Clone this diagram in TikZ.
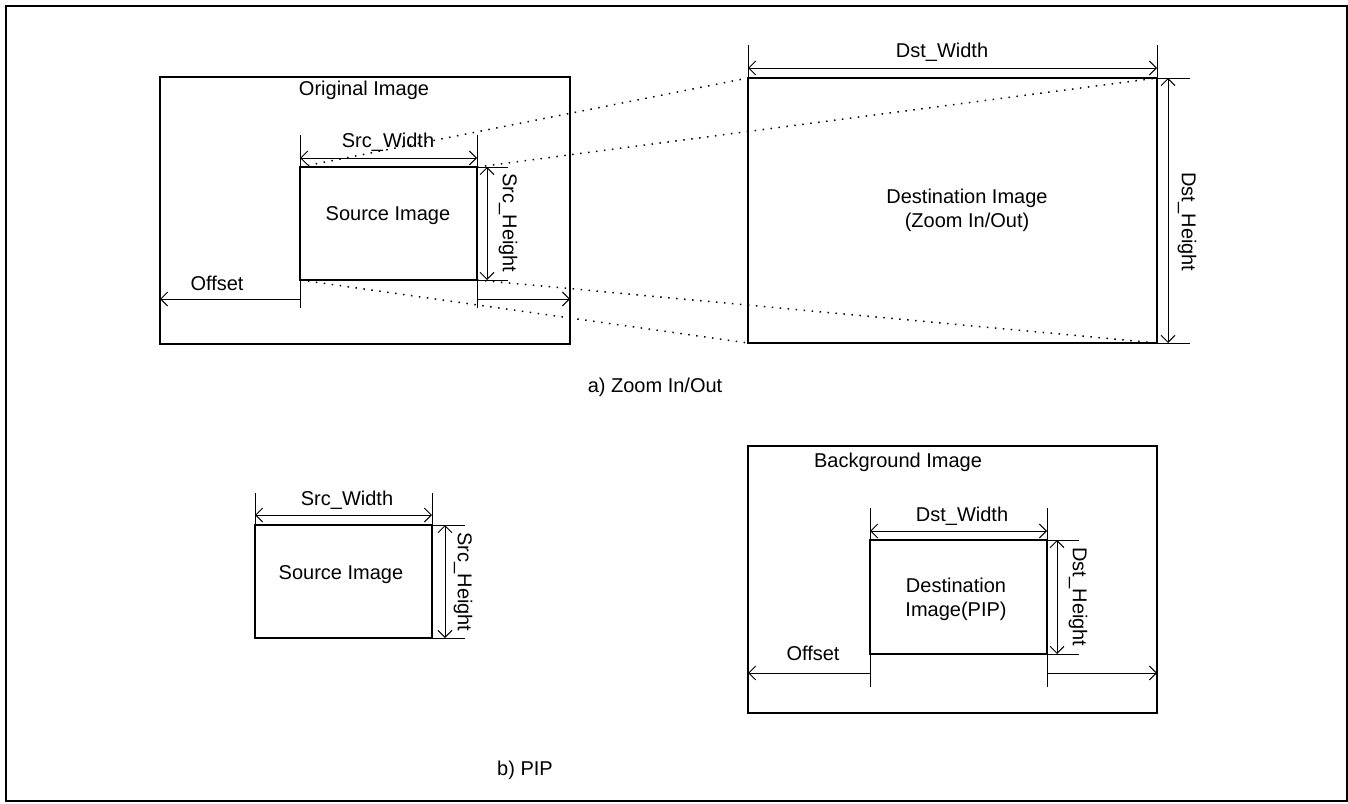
\documentclass[tikz,border=0pt]{standalone}
\usepackage{fontspec}
\setmainfont{Liberation Sans}
\usetikzlibrary{arrows.meta,calc}
\begin{document}
\begin{tikzpicture}[x=1pt,y=-1pt,
  box/.style={draw,line width=2pt,rectangle,inner sep=0pt,outer sep=0pt},
  dim/.style={line width=1pt},
  dimarr/.style={line width=1pt,{Straight Barb[length=7pt,width=14pt]}-{Straight Barb[length=7pt,width=14pt]}},
  endarr/.style={line width=1pt,-{Straight Barb[length=7pt,width=14pt]}},
  dots/.style={line width=1.5pt,dash pattern=on 1.5pt off 6.5pt},
  lbl/.style={font=\fontsize{20}{24}\selectfont,inner sep=0pt,align=center}
]
\useasboundingbox (0,0) rectangle (1348,803);
\draw[line width=2pt] (6,6) rectangle (1347,801);

% ---------- a) Zoom In/Out ----------
\node[box,minimum width=410pt,minimum height=267pt] (orig) at (365,210.5) {};
\node[box,minimum width=177pt,minimum height=113pt] (src) at (388.5,223.5) {};
\node[box,minimum width=409pt,minimum height=265pt] (dst) at (952.5,210.5) {};

\node[lbl] (origlbl) at (364,90) {Original Image};
\node[lbl] (srclbl) at (388,216) {Source Image};
\node[lbl] (dstlbl) at (967,210) {Destination Image\\(Zoom In/Out)};

% dotted projection lines
\draw[dots] (src.north west) -- (dst.north west);
\draw[dots] (src.north east) -- (dst.north east);
\draw[dots] (src.south west) -- (dst.south west);
\draw[dots] (src.south east) -- (dst.south east);

% Src_Width
\draw[dim] ([yshift=32pt]src.north west) -- ([yshift=-28pt]src.south west);
\draw[dim] ([yshift=32pt]src.north east) -- ([yshift=-28pt]src.south east);
\draw[dimarr] ([yshift=9pt]src.north west) -- ([yshift=9pt]src.north east);
\node[lbl] (swlbl) at (388,142) {Src\_Width};
% Src_Height
\draw[dim] (src.north east) -- ([xshift=31pt]src.north east);
\draw[dim] (src.south east) -- ([xshift=31pt]src.south east);
\draw[dimarr] ([xshift=10pt]src.north east) -- ([xshift=10pt]src.south east);
\node[lbl,rotate=-90] (shlbl) at (508,223) {Src\_Height};
% Offset
\draw[endarr] ([yshift=-19pt]src.south west) -- ([yshift=-19pt]src.south west -| orig.west);
\draw[endarr] ([yshift=-19pt]src.south east) -- ([yshift=-19pt]src.south east -| orig.east);
\node[lbl] (offlbl) at (217,283) {Offset};

% Dst_Width
\draw[dim] ([yshift=33pt]dst.north west) -- (dst.north west);
\draw[dim] ([yshift=33pt]dst.north east) -- (dst.north east);
\draw[dimarr] ([yshift=10pt]dst.north west) -- ([yshift=10pt]dst.north east);
\node[lbl] (dwlbl) at (942,52) {Dst\_Width};
% Dst_Height
\draw[dim] (dst.north east) -- ([xshift=33pt]dst.north east);
\draw[dim] (dst.south east) -- ([xshift=33pt]dst.south east);
\draw[dimarr] ([xshift=11pt]dst.north east) -- ([xshift=11pt]dst.south east);
\node[lbl,rotate=-90] (dhlbl) at (1187,222) {Dst\_Height};

\node[lbl] (capa) at (655,387) {a) Zoom In/Out};

% ---------- b) PIP ----------
\node[box,minimum width=177pt,minimum height=113pt] (src2) at (343.5,581.5) {};
\node[lbl] (src2lbl) at (341,575) {Source Image};
\draw[dim] ([yshift=32pt]src2.north west) -- (src2.north west);
\draw[dim] ([yshift=32pt]src2.north east) -- (src2.north east);
\draw[dimarr] ([yshift=10pt]src2.north west) -- ([yshift=10pt]src2.north east);
\node[lbl] (sw2lbl) at (347,500) {Src\_Width};
\draw[dim] (src2.north east) -- ([xshift=33pt]src2.north east);
\draw[dim] (src2.south east) -- ([xshift=33pt]src2.south east);
\draw[dimarr] ([xshift=13pt]src2.north east) -- ([xshift=13pt]src2.south east);
\node[lbl,rotate=-90] (sh2lbl) at (463,582) {Src\_Height};

\node[box,minimum width=409pt,minimum height=267pt] (bg) at (952.5,579.5) {};
\node[lbl] (bglbl) at (898,462) {Background Image};
\node[box,minimum width=177pt,minimum height=114pt] (pip) at (958.5,597) {};
\node[lbl] (piplbl) at (956,599) {Destination\\Image(PIP)};

\draw[dim] ([yshift=32pt]pip.north west) -- ([yshift=-33pt]pip.south west);
\draw[dim] ([yshift=32pt]pip.north east) -- ([yshift=-33pt]pip.south east);
\draw[dimarr] ([yshift=9pt]pip.north west) -- ([yshift=9pt]pip.north east);
\node[lbl] (dw2lbl) at (962,516) {Dst\_Width};
\draw[dim] (pip.north east) -- ([xshift=32pt]pip.north east);
\draw[dim] (pip.south east) -- ([xshift=32pt]pip.south east);
\draw[dimarr] ([xshift=10pt]pip.north east) -- ([xshift=10pt]pip.south east);
\node[lbl,rotate=-90] (dh2lbl) at (1078,597) {Dst\_Height};
\draw[endarr] ([yshift=-19pt]pip.south west) -- ([yshift=-19pt]pip.south west -| bg.west);
\draw[endarr] ([yshift=-19pt]pip.south east) -- ([yshift=-19pt]pip.south east -| bg.east);
\node[lbl] (off2lbl) at (813,653) {Offset};

\node[lbl] (capb) at (525,770) {b) PIP};
\end{tikzpicture}
\end{document}
